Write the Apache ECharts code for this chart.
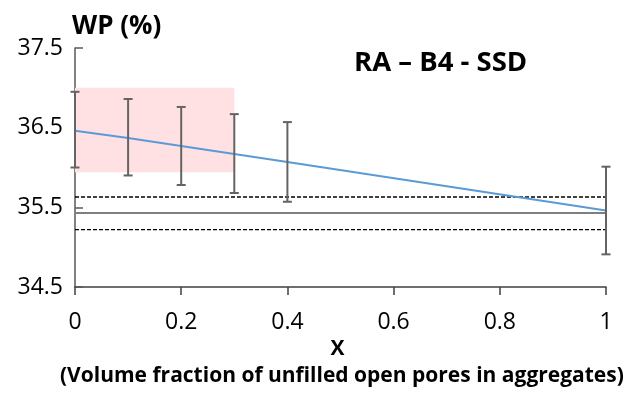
<!DOCTYPE html>
<html>
<head>
<meta charset="utf-8">
<script src="https://cdn.jsdelivr.net/npm/echarts@6/dist/echarts.min.js"></script>
<style>html,body{margin:0;padding:0;background:#fff;}#c{width:639px;height:394px;}</style>
</head>
<body>
<div id="c"></div>
<script>
// Data
const xValues = [0, 0.1, 0.2, 0.3, 0.4, 1];
const wpMean  = [36.46, 36.37, 36.27, 36.17, 36.07, 35.46];
const wpLow   = [36.00, 35.90, 35.78, 35.68, 35.57, 34.91];
const wpHigh  = [36.95, 36.86, 36.76, 36.67, 36.57, 36.01];
const refMean = 35.43;
const refUpper = 35.63;
const refLower = 35.22;
const zoneX = [0, 0.3];
const zoneY = [35.94, 37.0];
const xTicks = [0, 0.2, 0.4, 0.6, 0.8, 1];
const yTicks = [34.5, 35.5, 36.5, 37.5];

const FONT = 'Open Sans';
const chart = echarts.init(document.getElementById('c'), null, {renderer: 'canvas'});

const errData = xValues.map((x, i) => [x, wpLow[i], wpHigh[i]]);

chart.setOption({
  animation: false,
  backgroundColor: '#fff',
  grid: {left: 75, right: 33, top: 48, bottom: 107, containLabel: false},
  xAxis: {
    type: 'value', min: xTicks[0], max: xTicks[xTicks.length - 1], interval: 0.2,
    splitLine: {show: false},
    axisLine: {lineStyle: {color: '#404040', width: 1.5}},
    axisTick: {show: true, inside: false, length: 8, lineStyle: {color: '#404040', width: 1.5}},
    axisLabel: {color: '#000', fontFamily: FONT, fontSize: 23, margin: 24,
      formatter: v => String(+v.toFixed(1))},
    name: 'X', nameLocation: 'middle', nameGap: 52,
    nameTextStyle: {fontFamily: FONT, fontWeight: 'bold', fontSize: 21, color: '#000', padding: [0, 6, 0, 0]}
  },
  yAxis: {
    type: 'value', min: yTicks[0], max: yTicks[yTicks.length - 1], interval: 1,
    splitLine: {show: false},
    axisLine: {show: true, lineStyle: {color: '#595959', width: 1.5}},
    axisTick: {show: true, inside: true, length: 8, lineStyle: {color: '#595959', width: 1.5}},
    axisLabel: {color: '#000', fontFamily: FONT, fontSize: 23, margin: 12,
      formatter: v => v.toFixed(1)},
    name: 'WP (%)', nameLocation: 'end', nameGap: 8,
    nameTextStyle: {fontFamily: FONT, fontWeight: 'bold', fontSize: 26, color: '#000', align: 'left', padding: [0, 0, 0, -3]}
  },
  graphic: [
    {type: 'text', left: 60, top: 366,
      style: {text: '(Volume fraction of unfilled open pores in aggregates)', fontFamily: FONT, fontWeight: 'bold', fontSize: 21, fill: '#000'}},
    {type: 'text', left: 354, top: 49,
      style: {text: 'RA – B4 - SSD', fontFamily: FONT, fontWeight: 'bold', fontSize: 27.5, fill: '#000'}}
  ],
  series: [
    {
      type: 'custom', name: 'zone', z: 1, silent: true,
      renderItem: (params, api) => {
        const p1 = api.coord([api.value(0), api.value(3)]);
        const p2 = api.coord([api.value(1), api.value(2)]);
        return {type: 'rect', shape: {x: p1[0], y: p1[1], width: p2[0] - p1[0], height: p2[1] - p1[1]},
          style: {fill: '#FFE1E4'}};
      },
      data: [[zoneX[0], zoneX[1], zoneY[0], zoneY[1]]]
    },
    {type: 'line', name: 'ref', z: 2, symbol: 'none', data: [[xTicks[0], refMean], [xTicks[xTicks.length-1], refMean]],
      lineStyle: {color: '#7f7f7f', width: 2}},
    {type: 'line', name: 'refUp', z: 2, symbol: 'none', data: [[xTicks[0], refUpper], [xTicks[xTicks.length-1], refUpper]],
      lineStyle: {color: '#000', width: 1.3, type: [4, 2]}},
    {type: 'line', name: 'refLow', z: 2, symbol: 'none', data: [[xTicks[0], refLower], [xTicks[xTicks.length-1], refLower]],
      lineStyle: {color: '#000', width: 1.3, type: [4, 2]}},
    {type: 'line', name: 'WP', z: 3, symbol: 'none', data: xValues.map((x, i) => [x, wpMean[i]]),
      lineStyle: {color: '#5B9BD5', width: 2}},
    {
      type: 'custom', name: 'err', z: 4,
      renderItem: (params, api) => {
        const lo = api.coord([api.value(0), api.value(1)]);
        const hi = api.coord([api.value(0), api.value(2)]);
        const w = 4.5;
        const st = {stroke: '#646464', lineWidth: 2};
        return {type: 'group', children: [
          {type: 'line', shape: {x1: lo[0], y1: lo[1], x2: hi[0], y2: hi[1]}, style: st},
          {type: 'line', shape: {x1: lo[0]-w, y1: lo[1], x2: lo[0]+w, y2: lo[1]}, style: st},
          {type: 'line', shape: {x1: hi[0]-w, y1: hi[1], x2: hi[0]+w, y2: hi[1]}, style: st}
        ]};
      },
      data: errData
    }
  ]
});
</script>
</body>
</html>
